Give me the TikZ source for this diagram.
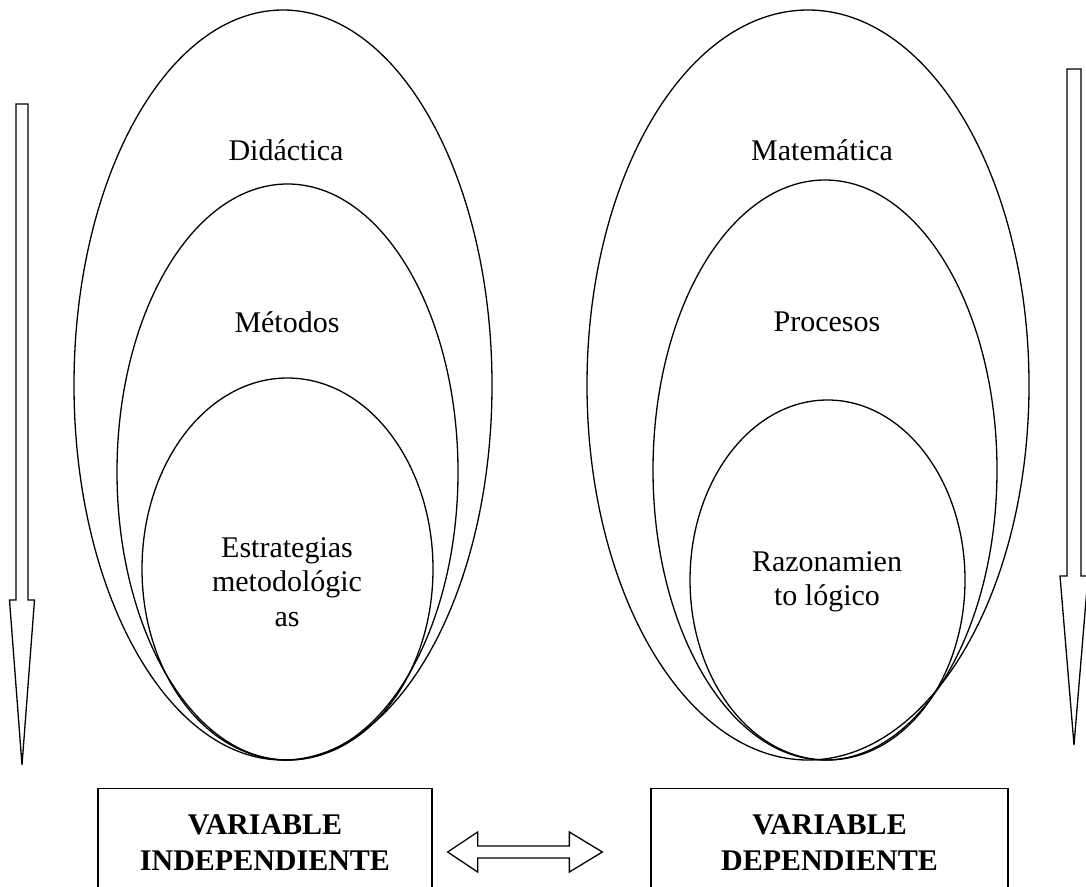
\documentclass[tikz,border=0pt]{standalone}
\usepackage{fontspec}
\setmainfont{Liberation Serif}
\usetikzlibrary{positioning,calc}

\begin{document}
\begin{tikzpicture}[x=1pt,y=-1pt,line width=1.3pt,
    lbl/.style={align=center,font=\fontsize{30}{34.5}\selectfont},
    varbox/.style={draw,anchor=north,minimum width=334pt,align=center,inner ysep=26pt,
      font=\fontsize{30}{36}\selectfont\bfseries}]

    \useasboundingbox (0,0) rectangle (1086,886);
    \clip (0,0) rectangle (1086,886);

    % left group
    \draw (283,385) ellipse [x radius=209pt, y radius=375pt];
    \draw (287.5,472) ellipse [x radius=170.5pt, y radius=288pt];
    \draw (287.5,569) ellipse [x radius=145.5pt, y radius=191pt];
    \node[lbl] (didactica) at (286,150) {Didáctica};
    \node[lbl] (metodos) at (287,322) {Métodos};
    \node[lbl] (estrategias) at (287,582) {Estrategias\\metodológic\\as};

    % right group
    \draw (808,385) ellipse [x radius=221pt, y radius=375pt];
    \draw (825,470) ellipse [x radius=172pt, y radius=290pt];
    \draw (827.5,580) ellipse [x radius=137.5pt, y radius=180pt];
    \node[lbl] (matematica) at (822,150) {Matemática};
    \node[lbl] (procesos) at (827,322) {Procesos};
    \node[lbl] (razonamiento) at (827,582) {Razonamien\\to lógico};

    % vertical arrows
    \draw (16,104) -- (28,104) -- (28,600) -- (34.5,600) -- (22,765) -- (9.5,600) -- (16,600) -- cycle;
    \draw (1067,69) -- (1081,69) -- (1081,576) -- (1088,576) -- (1074,745) -- (1060,576) -- (1067,576) -- cycle;

    % variables
    \node[varbox] (indep) at (265,788) {VARIABLE\\INDEPENDIENTE\rule[-50pt]{0pt}{0pt}};
    \node[varbox,minimum width=357pt] (dep) at (829.5,788) {VARIABLE\\DEPENDIENTE\rule[-50pt]{0pt}{0pt}};

    % link between the variables
    \coordinate (la) at ($(indep.north east)+(15,64)$);
    \coordinate (ra) at ($(dep.north west)+(-48,64)$);
    \draw (la) -- ++(30,-20) -- ++(0,14) -- ($(ra)+(-33,-6)$) -- ++(0,-14) -- (ra)
      -- ++(-33,20) -- ++(0,-14) -- ($(la)+(30,6)$) -- ++(0,14) -- cycle;

\end{tikzpicture}
\end{document}
